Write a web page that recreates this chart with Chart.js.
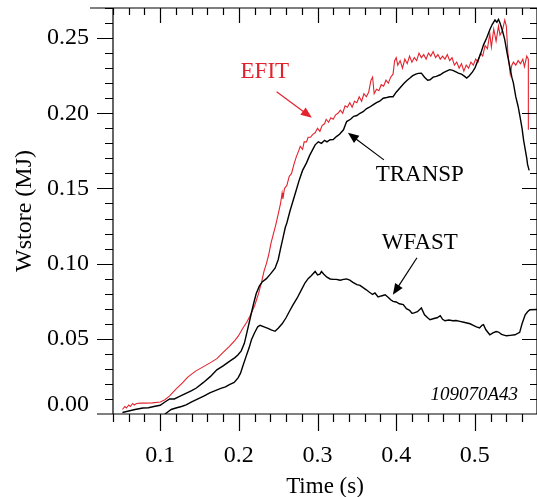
<!DOCTYPE html>
<html>
<head>
<meta charset="utf-8">
<script src="https://cdn.jsdelivr.net/npm/chart.js@4.4.1/dist/chart.umd.min.js"></script>
<style>
  html, body { margin: 0; padding: 0; background: #fff; }
  canvas { display: block; }
</style>
</head>
<body>
<canvas id="chart" width="537" height="497"></canvas>
<script>
// ======= DATA =======
const efitT = [0.052,0.055,0.057,0.060,0.062,0.065,0.067,0.070,0.075,0.080,0.090,0.100,0.106,0.112,0.120,0.128,0.135,0.145,0.155,0.165,
  0.172,0.180,0.188,0.195,0.199,0.205,0.210,0.214,0.220,0.225,0.229,0.232,0.235,0.238,0.241,0.244,0.247,0.250,0.253,0.255,
  0.256,0.258,0.261,0.264,0.267,0.270,0.273,0.276,0.278,0.281,0.283,0.286,0.288,0.291,0.294,0.297,0.300,0.303,0.306,0.309,
  0.311,0.314,0.317,0.320,0.323,0.326,0.329,0.332,0.335,0.338,0.341,0.344,0.347,0.350,0.353,0.356,0.359,0.362,0.365,0.368,
  0.370,0.372,0.375,0.378,0.381,0.384,0.387,0.390,0.393,0.396,0.398,0.400,0.402,0.405,0.408,0.411,0.414,0.417,0.420,0.423,
  0.426,0.429,0.432,0.435,0.438,0.441,0.444,0.447,0.450,0.453,0.456,0.459,0.462,0.465,0.468,0.471,0.474,0.477,0.480,0.483,
  0.486,0.489,0.492,0.495,0.498,0.501,0.504,0.507,0.510,0.513,0.516,0.519,0.521,0.524,0.527,0.530,0.532,0.535,0.538,0.540,
  0.542,0.545,0.547,0.549,0.552,0.555,0.558,0.561,0.563,0.566,0.568,0.568];
const efitW = [0.003,0.005,0.004,0.006,0.005,0.007,0.006,0.007,0.0072,0.0072,0.0074,0.0080,0.0095,0.0120,0.0165,0.0205,0.0245,0.0285,0.0315,0.0345,
  0.0368,0.041,0.045,0.049,0.0516,0.057,0.061,0.065,0.072,0.080,0.088,0.095,0.100,0.106,0.114,0.120,0.126,0.133,0.140,0.147,
  0.143,0.150,0.152,0.158,0.160,0.166,0.171,0.175,0.178,0.176,0.181,0.181,0.184,0.184,0.186,0.187,0.190,0.188,0.192,0.193,
  0.196,0.194,0.197,0.196,0.199,0.200,0.202,0.200,0.205,0.204,0.207,0.204,0.208,0.207,0.211,0.208,0.213,0.211,0.214,0.222,
  0.224,0.213,0.216,0.215,0.219,0.218,0.222,0.220,0.224,0.226,0.235,0.237,0.232,0.235,0.230,0.236,0.233,0.238,0.234,0.237,
  0.235,0.240,0.237,0.239,0.236,0.240,0.238,0.241,0.237,0.239,0.236,0.238,0.236,0.239,0.235,0.237,0.232,0.234,0.230,0.233,
  0.228,0.232,0.230,0.234,0.232,0.236,0.234,0.240,0.238,0.245,0.243,0.253,0.244,0.256,0.248,0.258,0.252,0.255,0.262,0.258,
  0.240,0.226,0.232,0.234,0.232,0.235,0.233,0.236,0.231,0.238,0.236,0.189];

const transpT = [0.052,0.060,0.068,0.078,0.085,0.092,0.100,0.106,0.112,0.118,0.124,0.132,0.140,0.146,0.155,0.164,0.172,0.180,0.188,0.195,
  0.199,0.203,0.207,0.211,0.215,0.219,0.222,0.226,0.230,0.235,0.240,0.246,0.250,0.253,0.256,0.259,0.261,0.265,0.269,0.273,
  0.277,0.281,0.286,0.290,0.294,0.297,0.301,0.305,0.309,0.312,0.316,0.320,0.324,0.328,0.333,0.337,0.342,0.346,0.350,0.354,
  0.358,0.362,0.366,0.371,0.375,0.379,0.3835,0.388,0.392,0.396,0.400,0.405,0.410,0.414,0.4175,0.421,0.425,0.428,0.432,0.436,
  0.440,0.443,0.447,0.451,0.456,0.460,0.464,0.468,0.472,0.476,0.479,0.483,0.487,0.4896,0.493,0.497,0.500,0.503,0.507,0.511,
  0.515,0.519,0.522,0.5256,0.528,0.530,0.532,0.535,0.538,0.541,0.544,0.547,0.549,0.552,0.555,0.557,0.560,0.562,0.564,0.566,
  0.567,0.569];
const transpW = [0.001,0.002,0.003,0.004,0.0042,0.0050,0.0058,0.008,0.0100,0.0100,0.0115,0.0135,0.0155,0.0173,0.021,0.025,0.0294,0.032,0.035,0.0375,
  0.0394,0.042,0.047,0.056,0.065,0.074,0.080,0.085,0.088,0.090,0.093,0.097,0.1026,0.110,0.117,0.124,0.127,0.135,0.142,0.149,
  0.156,0.162,0.167,0.172,0.176,0.179,0.181,0.180,0.182,0.181,0.1824,0.1825,0.1845,0.186,0.189,0.1945,0.196,0.198,0.1985,0.200,
  0.201,0.203,0.204,0.2057,0.207,0.208,0.210,0.2105,0.211,0.211,0.214,0.217,0.220,0.222,0.2234,0.225,0.226,0.2265,0.2267,0.224,
  0.222,0.2223,0.224,0.2245,0.2256,0.227,0.228,0.229,0.2285,0.2275,0.2267,0.226,0.2245,0.2234,0.225,0.2275,0.230,0.234,0.239,0.2455,
  0.250,0.2555,0.259,0.262,0.2605,0.2625,0.260,0.255,0.249,0.240,0.232,0.224,0.220,0.211,0.2045,0.199,0.190,0.182,0.176,0.170,
  0.166,0.162];

const wfastT = [0.106,0.110,0.114,0.120,0.127,0.133,0.140,0.148,0.156,0.163,0.170,0.177,0.183,0.188,0.194,0.199,0.202,0.205,0.209,0.213,
  0.216,0.220,0.224,0.227,0.232,0.237,0.241,0.246,0.250,0.255,0.260,0.264,0.269,0.274,0.279,0.284,0.288,0.292,0.297,0.300,
  0.303,0.305,0.308,0.312,0.316,0.320,0.324,0.326,0.329,0.333,0.337,0.341,0.345,0.350,0.354,0.358,0.362,0.366,0.370,0.373,
  0.377,0.381,0.386,0.390,0.393,0.396,0.400,0.404,0.409,0.413,0.417,0.420,0.422,0.427,0.432,0.436,0.440,0.443,0.448,0.452,
  0.456,0.459,0.462,0.467,0.472,0.476,0.481,0.486,0.490,0.494,0.498,0.502,0.506,0.509,0.511,0.514,0.517,0.519,0.523,0.527,
  0.530,0.534,0.540,0.545,0.551,0.557,0.560,0.564,0.567,0.570,0.579];
const wfastW = [0.000,0.0015,0.003,0.004,0.005,0.006,0.008,0.010,0.012,0.014,0.0155,0.017,0.018,0.0195,0.021,0.024,0.027,0.0317,0.038,0.044,
  0.0494,0.054,0.058,0.059,0.058,0.057,0.056,0.055,0.057,0.060,0.064,0.068,0.0727,0.077,0.082,0.0871,0.090,0.092,0.0948,0.0925,
  0.093,0.0948,0.093,0.091,0.0898,0.0895,0.0895,0.0893,0.089,0.0895,0.0898,0.089,0.0875,0.086,0.0855,0.084,0.0826,0.081,0.0795,0.0805,
  0.0778,0.0785,0.0793,0.0775,0.076,0.0749,0.0745,0.0733,0.0727,0.070,0.069,0.067,0.0671,0.068,0.0705,0.066,0.064,0.0627,0.0635,0.064,
  0.0654,0.063,0.062,0.0625,0.062,0.0622,0.0616,0.061,0.0605,0.060,0.059,0.058,0.0572,0.059,0.0594,0.056,0.054,0.0527,0.054,0.0548,
  0.0545,0.053,0.052,0.0523,0.0527,0.0543,0.060,0.066,0.068,0.0693,0.0695];

// axis labels
const xLabelVals = [0.1, 0.2, 0.3, 0.4, 0.5];
const yLabelVals = [0, 0.05, 0.10, 0.15, 0.20, 0.25];

// annotations: text position and arrow [x1,y1,x2,y2], data units
const notes = [
  { text: "EFIT",   at: [0.233, 0.2276], color: "#e2232d", arrow: [0.248, 0.2143, 0.2928, 0.197] },
  { text: "TRANSP", at: [0.430, 0.159],  color: "#000",    arrow: [0.3844, 0.1690, 0.3386, 0.187] },
  { text: "WFAST",  at: [0.430, 0.1139], color: "#000",    arrow: [0.4264, 0.1039, 0.3958, 0.0793] }
];
const shotId = "109070A43";

const RED = "#e2232d";
const SERIF = '"Liberation Serif", "DejaVu Serif", serif';

function pts(t, w){ return t.map((v, i) => ({ x: v, y: w[i] })); }

// ======= PLUGINS =======
// box with outward ticks left/bottom and inward ticks top/right
const frame = {
  id: "frame",
  afterDraw(chart){
    const { ctx, chartArea: a, scales: { x, y } } = chart;
    ctx.save();
    ctx.strokeStyle = "#000";
    ctx.lineWidth = 1.2;
    ctx.beginPath();
    ctx.moveTo(90, a.top); ctx.lineTo(a.right, a.top);
    ctx.moveTo(a.left, a.top); ctx.lineTo(a.left, a.bottom);
    ctx.moveTo(a.right, a.top); ctx.lineTo(a.right, a.bottom);
    ctx.moveTo(a.left - 16, a.bottom); ctx.lineTo(a.right, a.bottom);
    for (let i = 2; i <= 29; i++) {
      const v = i * 0.02;
      if (v > x.max + 1e-9) break;
      const px = Math.round(x.getPixelForValue(v)) + 0.5;
      const major = i % 5 === 0;
      ctx.moveTo(px, a.bottom); ctx.lineTo(px, a.bottom + (major ? 17 : 8));
      ctx.moveTo(px, a.top); ctx.lineTo(px, a.top + (major ? 15 : 7));
    }
    for (let j = 1; j <= 27; j++) {
      const v = j * 0.01;
      if (v > y.max + 1e-9) break;
      const py = Math.round(y.getPixelForValue(v)) + 0.5;
      const major = j % 5 === 0;
      ctx.moveTo(a.left - (major ? 16 : 8), py); ctx.lineTo(a.left, py);
      ctx.moveTo(a.right - (major ? 15 : 7), py); ctx.lineTo(a.right, py);
    }
    ctx.stroke();

    // bottom y label sits a little above the axis line
    ctx.fillStyle = "#000";
    ctx.font = "24px " + SERIF;
    ctx.textAlign = "right";
    ctx.textBaseline = "middle";
    ctx.fillText(yLabelVals[0].toFixed(2), a.left - 24, y.getPixelForValue(0) - 9);
    ctx.restore();
  }
};

function arrow(ctx, x1, y1, x2, y2){
  const ang = Math.atan2(y2 - y1, x2 - x1);
  const len = 11, w = 4.5;
  ctx.beginPath();
  ctx.moveTo(x1, y1);
  ctx.lineTo(x2 - Math.cos(ang) * len * 0.7, y2 - Math.sin(ang) * len * 0.7);
  ctx.stroke();
  ctx.beginPath();
  ctx.moveTo(x2, y2);
  ctx.lineTo(x2 - len * Math.cos(ang) + w * Math.sin(ang), y2 - len * Math.sin(ang) - w * Math.cos(ang));
  ctx.lineTo(x2 - len * Math.cos(ang) - w * Math.sin(ang), y2 - len * Math.sin(ang) + w * Math.cos(ang));
  ctx.closePath();
  ctx.fill();
}

const labels = {
  id: "labels",
  afterDatasetsDraw(chart){
    const { ctx, scales: { x, y } } = chart;
    ctx.save();
    ctx.textAlign = "center";
    ctx.textBaseline = "middle";
    ctx.font = "23px " + SERIF;
    ctx.lineWidth = 1.2;
    notes.forEach(n => {
      ctx.fillStyle = n.color; ctx.strokeStyle = n.color;
      ctx.fillText(n.text, x.getPixelForValue(n.at[0]), y.getPixelForValue(n.at[1]));
      arrow(ctx, x.getPixelForValue(n.arrow[0]), y.getPixelForValue(n.arrow[1]),
                 x.getPixelForValue(n.arrow[2]), y.getPixelForValue(n.arrow[3]));
    });
    ctx.fillStyle = "#000";
    ctx.font = "italic 19px " + SERIF;
    ctx.textAlign = "right";
    ctx.fillText(shotId, x.getPixelForValue(0.555), y.getPixelForValue(0.0128));
    ctx.restore();
  }
};

// ======= CHART =======
Chart.defaults.color = "#000";
Chart.defaults.font.family = SERIF;

function noPad(s){ s.paddingTop = 0; s.paddingBottom = 0; s.paddingLeft = 0; s.paddingRight = 0; }

new Chart(document.getElementById("chart"), {
  type: "line",
  data: {
    datasets: [
      { label: "WFAST",  data: pts(wfastT, wfastW),   borderColor: "#000", borderWidth: 1.4 },
      { label: "TRANSP", data: pts(transpT, transpW), borderColor: "#000", borderWidth: 1.4 },
      { label: "EFIT",   data: pts(efitT, efitW),     borderColor: RED,    borderWidth: 1.1 }
    ]
  },
  options: {
    responsive: false,
    animation: false,
    events: [],
    elements: { point: { radius: 0 }, line: { tension: 0 } },
    layout: { padding: { top: 8, right: 0, left: 0, bottom: 0 } },
    plugins: { legend: { display: false }, tooltip: { enabled: false } },
    scales: {
      x: {
        type: "linear", min: 0.04, max: 0.579,
        grid: { display: false, drawTicks: false }, border: { display: false },
        afterFit: s => { s.height = 83; noPad(s); },
        afterBuildTicks: s => { s.ticks = xLabelVals.map(v => ({ value: v })); },
        ticks: { padding: 27, font: { size: 24 }, callback: v => v.toFixed(1), maxRotation: 0 },
        title: { display: true, text: "Time (s)", font: { size: 23, lineHeight: 1.2 }, padding: { top: 0, bottom: -4 } }
      },
      y: {
        type: "linear", min: 0, max: 0.27,
        grid: { display: false, drawTicks: false }, border: { display: false },
        afterFit: s => { s.width = 113; noPad(s); },
        afterBuildTicks: s => { s.ticks = yLabelVals.map(v => ({ value: v })); },
        ticks: { padding: 24, font: { size: 24 }, callback: v => v === 0 ? "" : v.toFixed(2) },
        title: { display: true, text: "Wstore (MJ)", font: { size: 24, lineHeight: 1.2 }, padding: { top: 10, bottom: 0 } }
      }
    }
  },
  plugins: [frame, labels]
});
</script>
</body>
</html>
